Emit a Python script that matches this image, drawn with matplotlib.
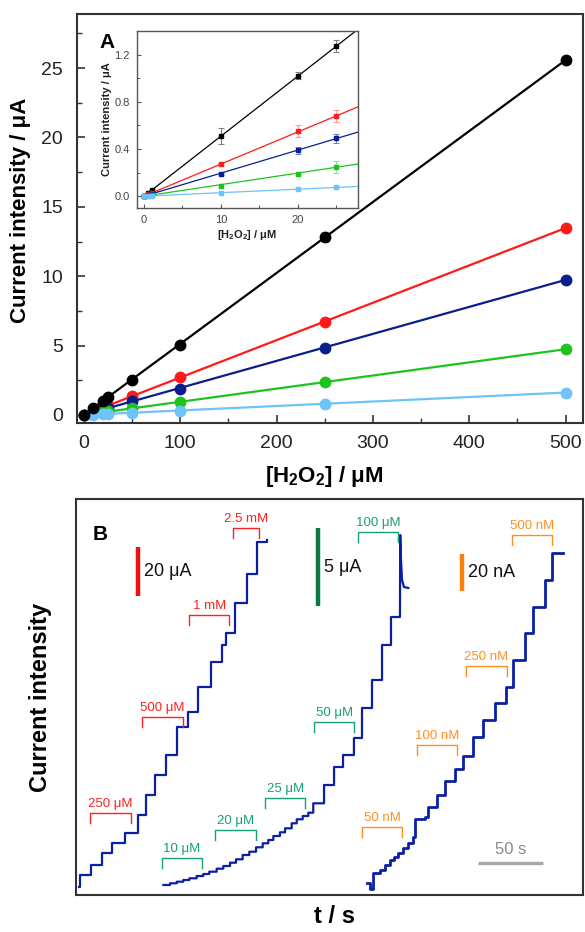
import numpy as np
import matplotlib
matplotlib.use("Agg")
import matplotlib.pyplot as plt
from matplotlib.ticker import MultipleLocator

plt.rcParams['font.family'] = ['Liberation Sans', 'DejaVu Sans']
plt.rcParams['mathtext.fontset'] = 'custom'
plt.rcParams['mathtext.rm'] = 'Liberation Sans:bold'
plt.rcParams['mathtext.bf'] = 'Liberation Sans:bold'
plt.rcParams['mathtext.default'] = 'bf'

# ---------------- Panel A data ----------------
conc_main = [0, 10, 20, 25, 50, 100, 250, 500]
black_main = [0, 0.51, 1.02, 1.27, 2.55, 5.02, 12.85, 25.55]
red_main = [0, 0.27, 0.55, 0.68, 1.38, 2.70, 6.70, 13.5]
blue_main = [0, 0.19, 0.39, 0.49, 0.97, 1.90, 4.82, 9.75]
green_main = [0, 0.09, 0.19, 0.25, 0.48, 0.93, 2.37, 4.74]
light_main = [0, 0.03, 0.06, 0.075, 0.15, 0.29, 0.80, 1.61]
black_main_err = [0, 0, 0, 0, 0, 0, 0.3, 0.2]

conc_inset = [0, 0.5, 1, 10, 20, 25]
black_in = [0, 0.025, 0.05, 0.51, 1.02, 1.27]
red_in = [0, 0.015, 0.03, 0.27, 0.55, 0.68]
blue_in = [0, 0.01, 0.02, 0.19, 0.39, 0.49]
green_in = [0, 0.005, 0.01, 0.09, 0.19, 0.25]
light_in = [0, 0.002, 0.004, 0.03, 0.06, 0.075]
black_in_err = [0, 0, 0, 0.07, 0.03, 0.05]
red_in_err = [0, 0, 0, 0.01, 0.05, 0.05]
blue_in_err = [0, 0, 0, 0.01, 0.03, 0.04]
green_in_err = [0, 0, 0, 0.01, 0.01, 0.05]
light_in_err = [0, 0, 0, 0.005, 0.01, 0.01]

series_colors = ['#000000', '#ff1a1a', '#0a1e8c', '#1ec31e', '#6ec3f7']
err_colors = ['#808080', '#ff9a9a', '#7080c8', '#8ee08e', '#b8e2fb']

# ---------------- Panel B data (t in s, current in arbitrary units) ----------------
t1 = [2.1, 3.1, 11.9, 20.0, 27.7, 37.7, 47.7, 53.8, 60.8, 69.2, 77.7, 86.2, 94.2,
      104.2, 112.3, 115.4, 122.3, 131.5, 139.2, 146.9]
i1 = [8, 20, 30, 42, 52, 62, 80, 100, 120, 140, 168, 183, 208, 233, 250, 262, 292,
      321, 353, 355]

t2 = [67.2, 72.3, 77.5, 82.5, 87.2, 92.8, 97.9, 102.5, 108.2, 113.3, 118.5, 123.1,
      128.2, 133.3, 138.5, 143.6, 147.9, 151.8, 156.9, 160.8, 165.9, 169.8, 174.4,
      178.7, 182.5, 190.8, 198.5, 205.4, 213.8, 220.0, 227.7, 235.4, 242.3, 249.2]
i2 = [10, 11.7, 13.3, 15, 16.7, 19, 21, 23.3, 26.3, 29, 32.3, 35.7, 40, 43.3, 47.7,
      51.7, 55, 59, 62.7, 66.7, 71.7, 75.7, 79, 82.3, 91.7, 110, 128, 140, 157, 187,
      215, 250, 278, 278]
t2_tail = [249.2, 249.4, 250.0, 250.8, 252.3, 255.6]
i2_tail = [278, 360, 335, 315, 308, 307]

t3 = [223.6, 226.2, 228.5, 233.8, 237.7, 241.5, 244.6, 247.7, 251.5, 255.4, 259.2,
      260.8, 268.5, 270.8, 277.7, 283.8, 291.5, 297.7, 305.4, 313.1, 322.3, 330.8,
      336.2, 345.4, 351.5, 360.8, 366.2, 374.6]
i3 = [12, 6, 22, 25, 30, 35, 38, 42, 47, 52, 58, 76, 78, 88, 100, 114, 126, 139, 158,
      175, 192, 208, 235, 262, 288, 315, 342, 342]

# brackets: (left, right, top, label)
red_br_left = [11.0, 50.5, 87.2, 120.5]
red_br_right = [42.3, 82.1, 117.9, 140.8]
red_br_top = [81.7, 178.3, 280, 366.7]
red_br_labels = ['250 μM', '500 μM', '1 mM', '2.5 mM']

green_br_left = [66.4, 106.9, 145.4, 183.3, 216.7]
green_br_right = [96.7, 138.5, 176.4, 214.1, 247.9]
green_br_top = [36.7, 65, 96.7, 173.3, 363.3]
green_br_labels = ['10 μM', '20 μM', '25 μM', '50 μM', '100 μM']

orange_br_left = [219.8, 262.1, 299.8, 335.2]
orange_br_right = [251.0, 293.3, 331.3, 366.4]
orange_br_top = [68.3, 150, 229.3, 360]
orange_br_labels = ['50 nM', '100 nM', '250 nM', '500 nM']

scale_bar_t = [47.5, 185.9, 296.7]
scale_bar_lo = [299, 289, 304.3]
scale_bar_hi = [348.3, 366.7, 341]
scale_bar_labels = ['20 μA', '5 μA', '20 nA']
scale_bar_colors = ['#ee1111', '#0b7a45', '#ff7f0e']
time_bar = [309, 359.5]
time_bar_y = 31.7

# ---------------- Figure ----------------
W, H = 585, 932
fig = plt.figure(figsize=(W / 100, H / 100), dpi=100)
axA = fig.add_axes([77 / W, 1 - 423 / H, 506 / W, 409 / H])
axB = fig.add_axes([76 / W, 1 - 895 / H, 507 / W, 396 / H])
axIn = fig.add_axes([137 / W, 1 - 208 / H, 221 / W, 177 / H])

# Panel A
main_series = [black_main, red_main, blue_main, green_main, light_main]
for k, (ys, c) in enumerate(zip(main_series, series_colors)):
    xs = np.array(conc_main, float)
    slope = np.polyfit(xs, ys, 1)[0]
    axA.plot([0, 500], [0, slope * 500], color=c, lw=1.6, zorder=2)
    if k == 0:
        axA.errorbar(conc_main, ys, yerr=black_main_err, fmt='o', color=c, ms=7.5,
                     capsize=3, elinewidth=1, capthick=1, zorder=3)
    else:
        axA.plot(conc_main, ys, 'o', color=c, ms=7.5, zorder=3)

axA.set_xlim(-7, 518)
axA.set_ylim(-0.58, 28.9)
axA.xaxis.set_major_locator(MultipleLocator(100))
axA.xaxis.set_minor_locator(MultipleLocator(50))
axA.yaxis.set_major_locator(MultipleLocator(5))
axA.yaxis.set_minor_locator(MultipleLocator(2.5))
axA.tick_params(axis='both', which='major', direction='in', length=5.5, width=1.2,
                labelsize=14, colors='#333333', labelcolor='#222222')
axA.tick_params(axis='both', which='minor', direction='in', length=3.5, width=1.0,
                colors='#333333')
axA.tick_params(axis='x', which='major', pad=8.5)
axA.tick_params(axis='y', which='major', pad=10)
axA.tick_params(top=False, right=False)
for s in axA.spines.values():
    s.set_linewidth(1.5)
    s.set_color('#333333')
axA.set_ylabel('Current intensity / μA', fontsize=16, fontweight='bold')
axA.yaxis.set_label_coords(-0.091, 0.52)
axA.set_xlabel(r'[H$_2$O$_2$] / μM', fontsize=16, fontweight='bold')
axA.xaxis.set_label_coords(0.488, -0.100)
axA.text(0.045, 0.93, 'A', transform=axA.transAxes, fontsize=15, fontweight='bold',
         ha='left', va='center')

# Inset
in_series = [black_in, red_in, blue_in, green_in, light_in]
in_errs = [black_in_err, red_in_err, blue_in_err, green_in_err, light_in_err]
for ys, es, c, ec in zip(in_series, in_errs, series_colors, err_colors):
    xs = np.array(conc_inset, float)
    slope = np.polyfit(xs, ys, 1)[0]
    axIn.plot([0, 30], [0, slope * 30], color=c, lw=0.9, zorder=2)
    axIn.errorbar(conc_inset, ys, yerr=es, fmt='s', color=c, ms=3, ecolor=ec,
                  capsize=2, elinewidth=0.8, capthick=0.8, zorder=3)
axIn.set_xlim(-0.9, 27.8)
axIn.set_ylim(-0.1, 1.40)
axIn.xaxis.set_major_locator(MultipleLocator(10))
axIn.xaxis.set_minor_locator(MultipleLocator(5))
axIn.yaxis.set_major_locator(MultipleLocator(0.4))
axIn.yaxis.set_minor_locator(MultipleLocator(0.2))
axIn.yaxis.set_major_formatter(matplotlib.ticker.FormatStrFormatter('%.1f'))
axIn.tick_params(axis='both', which='major', direction='in', length=3, width=0.8,
                 labelsize=8, colors='#555555', labelcolor='#444444', pad=5)
axIn.tick_params(axis='both', which='minor', direction='in', length=2, width=0.7,
                 colors='#555555')
for s in axIn.spines.values():
    s.set_linewidth(1.0)
    s.set_color('#555555')
axIn.set_ylabel('Current intensity / μA', fontsize=8, fontweight='bold', color='#222222')
axIn.yaxis.set_label_coords(-0.112, 0.5)
axIn.set_xlabel(r'[H$_2$O$_2$] / μM', fontsize=8, fontweight='bold', color='#222222')
axIn.xaxis.set_label_coords(0.496, -0.113)

# Panel B
trace_color = '#0b1fa5'


def step_xy(t, i):
    t = np.asarray(t, float)
    i = np.asarray(i, float)
    xs = np.repeat(t, 2)[1:]
    ys = np.repeat(i, 2)[:-1]
    return xs, ys


x1, y1 = step_xy(t1, i1)
axB.plot(x1, y1, color=trace_color, lw=1.6, solid_joinstyle='round')
x2, y2 = step_xy(t2, i2)
axB.plot(np.concatenate([x2, t2_tail]), np.concatenate([y2, i2_tail]),
         color=trace_color, lw=1.6, solid_joinstyle='round')
x3, y3 = step_xy(t3, i3)
axB.plot(x3, y3, color=trace_color, lw=2.0, solid_joinstyle='round')

tick_len = 10


def draw_brackets(lefts, rights, tops, labels, color):
    for l, r, tp, lab in zip(lefts, rights, tops, labels):
        axB.plot([l, l, r, r], [tp - tick_len, tp, tp, tp - tick_len], color=color,
                 lw=1.0)
        axB.text((l + r) / 2, tp + 6, lab, color=color, fontsize=9.5, ha='center',
                 va='baseline')


draw_brackets(red_br_left, red_br_right, red_br_top, red_br_labels, '#ff2020')
draw_brackets(green_br_left, green_br_right, green_br_top, green_br_labels, '#17a070')
draw_brackets(orange_br_left, orange_br_right, orange_br_top, orange_br_labels, '#ff9020')

for tb, lo, hi, lab, c in zip(scale_bar_t, scale_bar_lo, scale_bar_hi,
                              scale_bar_labels, scale_bar_colors):
    axB.plot([tb, tb], [lo, hi], color=c, lw=3.2, solid_capstyle='butt')
    axB.text(tb + 5, (lo + hi) / 2, lab, fontsize=13, ha='left', va='center',
             color='#111111')

axB.plot(time_bar, [time_bar_y, time_bar_y], color='#a8a8a8', lw=2.4,
         solid_capstyle='butt')
axB.text(sum(time_bar) / 2, time_bar_y + 6, '50 s', color='#8a8a8a', fontsize=12,
         ha='center', va='bottom')

axB.text(18.5, 360, 'B', fontsize=15, fontweight='bold', ha='center', va='center')

axB.set_xlim(0, 390)
axB.set_ylim(0, 396)
axB.set_xticks([])
axB.set_yticks([])
for s in axB.spines.values():
    s.set_linewidth(1.5)
    s.set_color('#333333')
axB.set_ylabel('Current intensity', fontsize=17, fontweight='bold')
axB.yaxis.set_label_coords(-0.047, 0.5)
axB.set_xlabel('t / s', fontsize=17, fontweight='bold')
axB.xaxis.set_label_coords(0.51, -0.026)

fig.savefig('out.png', dpi=100)
